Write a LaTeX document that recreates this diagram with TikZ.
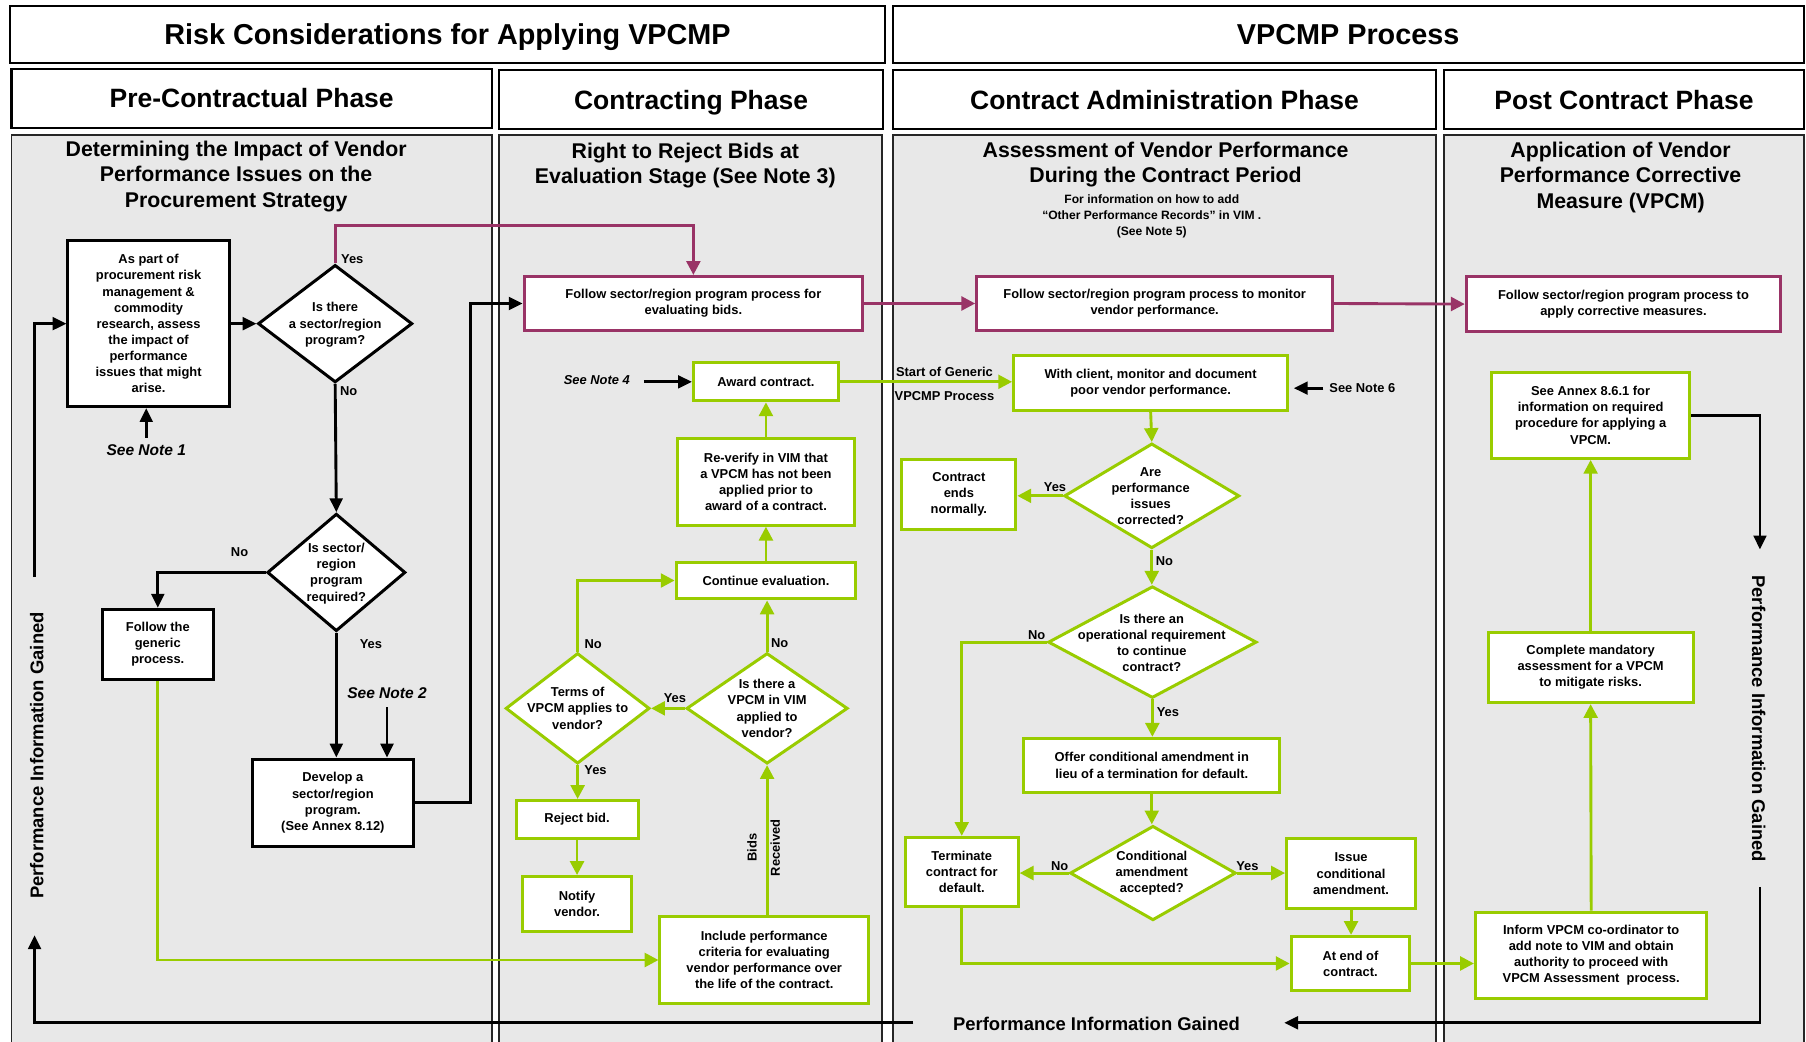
\documentclass[tikz,border=0pt]{standalone}
\usepackage{fontspec}
\setmainfont{Liberation Sans}
\usetikzlibrary{arrows.meta,shapes.geometric}
\definecolor{lgreen}{HTML}{99CC00}
\definecolor{purp}{HTML}{993366}
\definecolor{panelgray}{HTML}{E8E8E8}
\newcommand\fz[2]{\fontsize{#1}{#2}\selectfont\bfseries}
\tikzset{
 hdr/.style={draw=black, line width=1.8pt, fill=white, inner sep=0pt, font=\fz{25}{30}, text height=18pt, text depth=0pt},
 phs/.style={draw=black, line width=1.8pt, fill=white, inner sep=0pt, font=\fz{23}{28}, text height=16.5pt, text depth=0pt},
 pnl/.style={draw=black!85, line width=1.5pt, fill=panelgray},
 sub/.style={align=center, font=\fz{18.5}{22}, inner sep=0pt},
 small/.style={align=center, font=\fz{10.5}{14}, inner sep=0pt},
 bx/.style={fill=white, inner sep=0pt, align=center, font=\fz{11.2}{14}},
 bbox/.style={bx, draw=black, line width=2.6pt},
 gbox/.style={bx, draw=lgreen, line width=2.6pt},
 pbox/.style={bx, draw=purp, line width=2.6pt},
 gdia/.style={diamond, draw=lgreen, line width=2.6pt, fill=white, inner sep=0pt},
 bdia/.style={diamond, draw=black, line width=2.6pt, fill=white, inner sep=0pt},
 dtxt/.style={align=center, font=\fz{11.2}{14}, inner sep=0pt},
 lbl/.style={font=\fz{11.2}{14}, inner sep=0pt},
 note/.style={font=\fz{13.5}{16}\itshape, inner sep=0pt},
 pig/.style={font=\fz{16}{18}, inner sep=0pt},
 bl/.style={draw=black, line width=2.5pt, -{Triangle[length=12pt,width=11pt]}},
 gl/.style={draw=lgreen, line width=2.5pt, -{Triangle[length=12pt,width=12pt]}},
 pl/.style={draw=purp, line width=2.5pt, -{Triangle[length=12pt,width=12pt]}},
}
\begin{document}
\begin{tikzpicture}[x=1pt,y=-1pt]
\useasboundingbox (0,0) rectangle (1568,904);
\clip (0,0) rectangle (1568,904);
\fill[white] (0,0) rectangle (1568,904);

% headers
\node[hdr, minimum width=759pt, minimum height=50pt] (h1) at (388.5,30) {Risk Considerations for Applying VPCMP};
\node[hdr, minimum width=791pt, minimum height=50pt] (h2) at (1170.5,30) {VPCMP Process};
\node[phs, minimum width=417pt, minimum height=51pt] (ph1) at (218.5,85.5) {Pre-Contractual Phase};
\node[phs, minimum width=334pt, minimum height=51pt] (ph2) at (600,86.5) {Contracting Phase};
\node[phs, minimum width=472pt, minimum height=51pt] (ph3) at (1011,86.5) {Contract Administration Phase};
\node[phs, minimum width=312pt, minimum height=51pt] (ph4) at (1410,86.5) {Post Contract Phase};

% panels
\draw[pnl] (10,117) rectangle (427,915);
\draw[pnl] (433,117) rectangle (766,915);
\draw[pnl] (775,117) rectangle (1247,915);
\draw[pnl] (1254,117) rectangle (1566,915);

\node[sub] (s1) at (205,153) {Determining the Impact of Vendor\\Performance Issues on the\\Procurement Strategy};
\node[sub] (s2) at (595,144) {Right to Reject Bids at\\Evaluation Stage (See Note 3)};
\node[sub] (s3) at (1012,143) {Assessment of Vendor Performance\\During the Contract Period};
\node[small] (s3b) at (1000,188) {For information on how to add\\“Other Performance Records” in VIM .\\(See Note 5)};
\node[sub] (s4) at (1407,154) {Application of Vendor\\Performance Corrective\\Measure (VPCM)};

% panel 1
\node[bbox, minimum width=140pt, minimum height=144pt] (a1) at (129,281) {As part of\\procurement risk\\management \&\\commodity\\research, assess\\the impact of\\performance\\issues that might\\arise.};
\node[bdia, minimum width=134pt, minimum height=102pt] (d1) at (291,281) {};
\node[dtxt] (d1t) at (291,282) {Is there\\a sector/region\\program?};
\node[bdia, minimum width=120pt, minimum height=102pt] (d2) at (292,497) {};
\node[dtxt] (d2t) at (292,498) {Is sector/\\region\\program\\required?};
\node[bbox, minimum width=96pt, minimum height=61pt] (gen) at (137,559.5) {Follow the\\generic\\process.};
\node[bbox, minimum width=140pt, minimum height=76pt] (dev) at (289,697) {Develop a\\sector/region\\program.\\(See Annex 8.12)};
\node[note] (n1) at (127,391) {See Note 1};
\node[note] (n2) at (336,602) {See Note 2};
\coordinate (n1a) at (127,380);
\coordinate (n2a) at (336,614);

% panel 2
\node[pbox, minimum width=294pt, minimum height=47pt] (p1) at (602,263.5) {Follow sector/region program process for\\evaluating bids.};
\node[gbox, minimum width=126pt, minimum height=33pt] (award) at (665,331.5) {Award contract.};
\node[gbox, minimum width=154pt, minimum height=75pt] (rev) at (665,418.5) {Re-verify in VIM that\\a VPCM has not been\\applied prior to\\award of a contract.};
\node[gbox, minimum width=156pt, minimum height=32pt] (cont) at (665,504) {Continue evaluation.};
\node[gdia, minimum width=140pt, minimum height=96pt] (d3) at (666,615) {};
\node[dtxt] (d3t) at (666,615) {Is there a\\VPCM in VIM\\applied to\\vendor?};
\node[gdia, minimum width=125pt, minimum height=96pt] (d4) at (501.5,615) {};
\node[dtxt] (d4t) at (501.5,615) {Terms of\\VPCM applies to\\vendor?};
\node[gbox, minimum width=106pt, minimum height=33pt] (rej) at (501,711.5) {Reject bid.};
\node[gbox, minimum width=94pt, minimum height=48pt] (notif) at (501,785) {Notify\\vendor.};
\node[gbox, minimum width=181pt, minimum height=75pt] (incl) at (663.5,833.5) {Include performance\\criteria for evaluating\\vendor performance over\\the life of the contract.};
\node[lbl, font=\fz{11.2}{14}\itshape, anchor=east] (n4) at (547,330) {See Note 4};
\coordinate (n4a) at (559,331.5);

% panel 3
\node[pbox, minimum width=309pt, minimum height=47pt] (p2) at (1002.5,263.5) {Follow sector/region program process to monitor\\vendor performance.};
\node[gbox, minimum width=238pt, minimum height=47pt] (wc) at (999,332.5) {With client, monitor and document\\poor vendor performance.};
\node[gdia, minimum width=152pt, minimum height=91pt] (d5) at (1000,430.5) {};
\node[dtxt] (d5t) at (999,431) {Are\\performance\\issues\\corrected?};
\node[gbox, minimum width=99pt, minimum height=61pt] (ends) at (832.5,429.5) {Contract\\ends\\normally.};
\node[gdia, minimum width=181pt, minimum height=97pt] (d6) at (1000.5,557.5) {};
\node[dtxt] (d6t) at (1000,558) {Is there an\\operational requirement\\to continue\\contract?};
\node[gbox, minimum width=222pt, minimum height=47pt] (offer) at (1000,664.5) {Offer conditional amendment in\\lieu of a termination for default.};
\node[gdia, minimum width=144pt, minimum height=82pt] (d7) at (1001,758) {};
\node[dtxt] (d7t) at (1000,758) {Conditional\\amendment\\accepted?};
\node[gbox, minimum width=98pt, minimum height=60pt] (term) at (835,757) {Terminate\\contract for\\default.};
\node[gbox, minimum width=112pt, minimum height=61pt] (issue) at (1173,758.5) {Issue\\conditional\\amendment.};
\node[gbox, minimum width=103pt, minimum height=47pt] (atend) at (1172.5,836.5) {At end of\\contract.};
\node[lbl, anchor=west] (n6) at (1154,337) {See Note 6};
\coordinate (n6a) at (1149,337);
\node[lbl] (sg1) at (820,323) {Start of Generic};
\node[lbl] (sg2) at (820,344) {VPCMP Process};

% panel 4
\node[pbox, minimum width=273pt, minimum height=48pt] (p3) at (1409.5,264) {Follow sector/region program process to\\apply corrective measures.};
\node[gbox, minimum width=172pt, minimum height=75pt] (annex) at (1381,360.5) {See Annex 8.6.1 for\\information on required\\procedure for applying a\\VPCM.};
\node[gbox, minimum width=178pt, minimum height=61pt] (comp) at (1381,579.5) {Complete mandatory\\assessment for a VPCM\\to mitigate risks.};
\node[gbox, minimum width=201pt, minimum height=75pt] (inform) at (1381.5,829.5) {Inform VPCM co-ordinator to\\add note to VIM and obtain\\authority to proceed with\\VPCM Assessment~~process.};

% performance information gained loop
\node[pig, rotate=90] (pigl) at (32,656) {Performance Information Gained};
\node[pig, rotate=-90] (pigr) at (1527,624) {Performance Information Gained};
\node[pig] (pigb) at (952,889) {Performance Information Gained};
\coordinate (r1) at (1528,477);
\coordinate (r2) at (1528,770);
\coordinate (b1) at (1115,888);
\coordinate (b2) at (793,888);
\coordinate (l1) at (30,812);
\coordinate (l2) at (30,501);

% connectors panel 1
\draw[bl] (a1.east) -- (d1.west);
\draw[pl] (d1.north) -- ++(0,-33) -| (p1.north);
\draw[bl] (d1.south) -- (d2.north);
\draw[bl] (d2.west) -| (gen.north);
\draw[bl] (d2.south) -- (d2.south |- dev.north);
\draw[bl] (n2a) -- (n2a |- dev.north);
\draw[bl] (n1a) -- (n1a |- a1.south);
\draw[bl] (dev.east) -- ++(48,0) |- (p1.west);
\draw[gl] (gen.south) |- (incl.west);
\node[lbl, anchor=west] (y1) at (296,225) {Yes};
\node[lbl, anchor=west] (no1) at (295,340) {No};
\node[lbl] (no2) at (208,479) {No};
\node[lbl] (y2) at (322,559) {Yes};

% connectors panel 2
\draw[bl] (n4a) -- (award.west);
\draw[gl] (incl.north -| d3.south) -- (d3.south);
\draw[gl] (d3.north) -- (d3.north |- cont.south);
\draw[gl] (d3.west) -- (d4.east);
\draw[gl] (d4.north) |- (cont.west);
\draw[gl] (d4.south) -- (d4.south |- rej.north);
\draw[gl] (rej.south) -- (rej.south |- notif.north);
\draw[gl] (cont.north) -- (rev.south);
\draw[gl] (rev.north) -- (award.south);
\draw[gl] (award.east) -- (award.east -| wc.west);
\node[lbl] (no3) at (515,559) {No};
\node[lbl] (no4) at (677,558) {No};
\node[lbl] (y3) at (586,606) {Yes};
\node[lbl] (y4) at (517,669) {Yes};
\node[lbl, rotate=90] (bids) at (653,736) {Bids};
\node[lbl, rotate=90] (recv) at (673,736) {Received};

% connectors top purple
\draw[pl] (p1.east) -- (p2.west);
\draw[pl] (p2.east) -- (p3.west);

% connectors panel 3
\draw[bl] (n6a) -- ([xshift=4pt]wc.east |- n6a);
\draw[gl] (wc.south) -- (d5.north);
\draw[gl] (d5.west) -- (d5.west -| ends.east);
\draw[gl] (d5.south) -- (d5.south |- d6.north);
\draw[gl] (d6.west) -| (term.north);
\draw[gl] (d6.south) -- (d6.south |- offer.north);
\draw[gl] (offer.south) -- (offer.south |- d7.north);
\draw[gl] (d7.west) -- (d7.west -| term.east);
\draw[gl] (d7.east) -- (d7.east -| issue.west);
\draw[gl] (issue.south) -- (issue.south |- atend.north);
\draw[gl] (term.south) |- (atend.west);
\draw[gl] (atend.east) -- (atend.east -| inform.west);
\node[lbl] (y5) at (916,423) {Yes};
\node[lbl] (no5) at (1011,487) {No};
\node[lbl] (no6) at (900,551) {No};
\node[lbl] (y6) at (1014,618) {Yes};
\node[lbl] (no7) at (920,752) {No};
\node[lbl] (y7) at (1083,752) {Yes};

% connectors panel 4
\draw[gl] (inform.north) -- (comp.south);
\draw[gl] (comp.north) -- (annex.south);
\draw[bl] (annex.east) -| (r1);
\draw[bl] (r2) |- (b1);
\draw[bl] (b2) -| (l1);
\draw[bl] (l2) |- (a1.west);
\end{tikzpicture}
\end{document}
